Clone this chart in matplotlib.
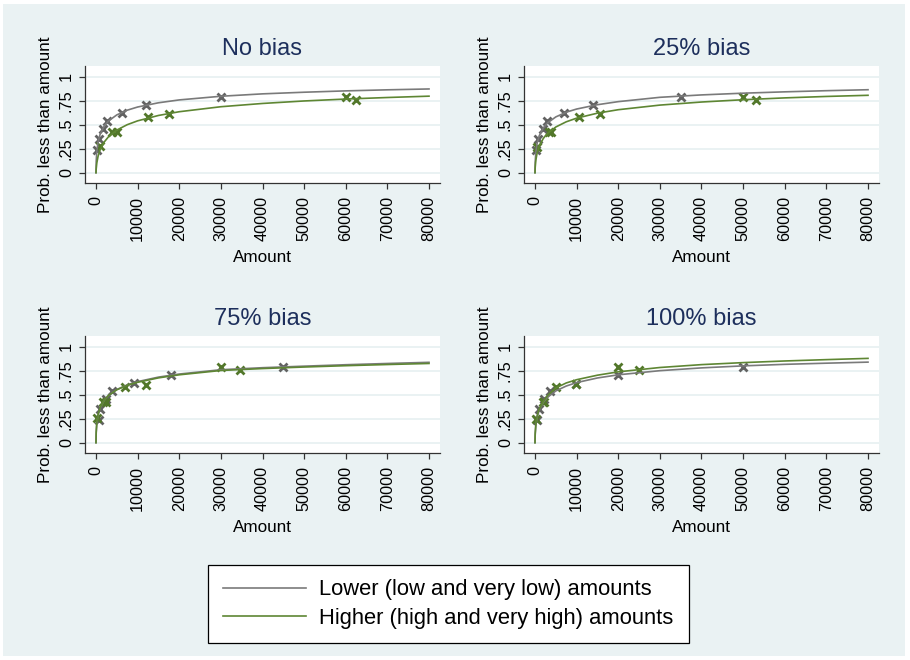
import matplotlib.pyplot as plt
from matplotlib.patches import Rectangle
from matplotlib.lines import Line2D

plt.rcParams['font.family'] = ['Liberation Sans', 'DejaVu Sans']

# --- data ---
panel_titles = ['No bias', '25% bias', '75% bias', '100% bias']

# amounts at which the fitted curves are evaluated
curve_amounts = [0, 50, 200, 500, 1000, 2000, 3000, 5000, 7500, 10000,
                 15000, 20000, 30000, 40000, 50000, 60000, 70000, 80000]

# fitted curves: lower amounts (grey) and higher amounts (green)
low_fit_nobias = [0, 0.116, 0.224, 0.320, 0.402, 0.488, 0.539, 0.602, 0.651, 0.684,
                  0.728, 0.758, 0.796, 0.821, 0.838, 0.852, 0.863, 0.872]
high_fit_nobias = [0, 0.039, 0.102, 0.171, 0.240, 0.321, 0.374, 0.444, 0.500, 0.540,
                   0.596, 0.635, 0.687, 0.721, 0.747, 0.767, 0.783, 0.797]
low_fit_25 = [0, 0.108, 0.211, 0.303, 0.383, 0.467, 0.518, 0.581, 0.630, 0.663,
              0.708, 0.740, 0.785, 0.810, 0.828, 0.842, 0.854, 0.864]
high_fit_25 = [0, 0.055, 0.128, 0.204, 0.275, 0.357, 0.409, 0.476, 0.530, 0.568,
               0.620, 0.656, 0.704, 0.736, 0.760, 0.779, 0.794, 0.806]
low_fit_75 = [0, 0.102, 0.199, 0.286, 0.361, 0.443, 0.492, 0.554, 0.602, 0.636,
              0.683, 0.715, 0.760, 0.781, 0.797, 0.812, 0.825, 0.837]
high_fit_75 = [0, 0.114, 0.211, 0.295, 0.368, 0.446, 0.492, 0.551, 0.598, 0.629,
               0.675, 0.707, 0.752, 0.772, 0.788, 0.802, 0.814, 0.825]
low_fit_100 = [0, 0.083, 0.173, 0.259, 0.337, 0.421, 0.473, 0.539, 0.590, 0.626,
               0.674, 0.707, 0.750, 0.779, 0.800, 0.816, 0.828, 0.839]
high_fit_100 = [0, 0.100, 0.190, 0.280, 0.350, 0.430, 0.490, 0.570, 0.622, 0.656,
                0.703, 0.738, 0.783, 0.813, 0.834, 0.851, 0.865, 0.878]

# observed points
low_x_nobias = [150, 750, 1800, 2600, 6250, 12000, 30000]
low_y_nobias = [0.24, 0.35, 0.455, 0.535, 0.62, 0.705, 0.785]
high_x_nobias = [1000, 3750, 5000, 12500, 17500, 60000, 62500]
high_y_nobias = [0.28, 0.42, 0.42, 0.58, 0.61, 0.785, 0.757]

low_x_25 = [200, 700, 1900, 2800, 7000, 14000, 35000]
low_y_25 = [0.24, 0.35, 0.455, 0.535, 0.62, 0.705, 0.785]
high_x_25 = [450, 3400, 3750, 10600, 15600, 50000, 53000]
high_y_25 = [0.265, 0.42, 0.42, 0.58, 0.608, 0.785, 0.757]

low_x_75 = [700, 1000, 2300, 3750, 9100, 18000, 45000]
low_y_75 = [0.24, 0.35, 0.455, 0.535, 0.618, 0.705, 0.785]
high_x_75 = [150, 1600, 2400, 6900, 11900, 30000, 34500]
high_y_75 = [0.26, 0.42, 0.42, 0.58, 0.60, 0.785, 0.757]

low_x_100 = [450, 950, 2100, 3650, 9850, 20000, 50000]
low_y_100 = [0.24, 0.35, 0.455, 0.535, 0.61, 0.705, 0.785]
high_x_100 = [300, 2000, 2200, 5000, 9850, 20000, 25000]
high_y_100 = [0.25, 0.42, 0.42, 0.58, 0.61, 0.785, 0.757]

x_ticks = [0, 10000, 20000, 30000, 40000, 50000, 60000, 70000, 80000]
y_ticks = [0, 0.25, 0.5, 0.75, 1]
y_tick_labels = ['0', '.25', '.5', '.75', '1']

legend_labels = ['Lower (low and very low) amounts',
                 'Higher (high and very high) amounts']

low_fits = [low_fit_nobias, low_fit_25, low_fit_75, low_fit_100]
high_fits = [high_fit_nobias, high_fit_25, high_fit_75, high_fit_100]
low_pts = [(low_x_nobias, low_y_nobias), (low_x_25, low_y_25),
           (low_x_75, low_y_75), (low_x_100, low_y_100)]
high_pts = [(high_x_nobias, high_y_nobias), (high_x_25, high_y_25),
            (high_x_75, high_y_75), (high_x_100, high_y_100)]

# --- styling ---
W, H = 910, 660
bg = '#EAF2F3'
grey_line = '#7a7a7a'
grey_mark = '#626262'
green_line = '#5e8633'
green_mark = '#52772a'
title_col = '#1d2f5c'

fig = plt.figure(figsize=(W / 100, H / 100), dpi=100, facecolor='white')
fig.patches.append(Rectangle((3 / W, 4 / H), (W - 8) / W, (H - 8) / H,
                             transform=fig.transFigure, facecolor=bg,
                             edgecolor='none', zorder=-10))

# plot-region boxes in pixels: left, top
boxes = [(85, 66), (524, 66), (85, 336), (524, 336)]
pw, ph = 355, 117

for i, (left, top) in enumerate(boxes):
    ax = fig.add_axes([left / W, 1 - (top + ph) / H, pw / W, ph / H])
    ax.set_facecolor('white')
    ax.set_xlim(-2640, 82640)
    ax.set_ylim(-0.107, 1.111)

    for y in y_ticks:
        ax.axhline(y, color=bg, lw=1.4, zorder=1)

    ax.plot(*low_pts[i], linestyle='none', marker='x', ms=5.5, mew=2,
            color=grey_mark, zorder=3)
    ax.plot(*high_pts[i], linestyle='none', marker='x', ms=5.5, mew=2,
            color=green_mark, zorder=3)
    ax.plot(curve_amounts, low_fits[i], color=grey_line, lw=1.2, zorder=4)
    ax.plot(curve_amounts, high_fits[i], color=green_line, lw=1.2, zorder=4)

    for side in ['top', 'right']:
        ax.spines[side].set_visible(False)
    for side in ['left', 'bottom']:
        ax.spines[side].set_color('#333333')
        ax.spines[side].set_linewidth(0.9)

    ax.set_xticks(x_ticks)
    ax.set_xticklabels([str(t) for t in x_ticks], rotation=90)
    ax.set_yticks(y_ticks)
    ax.set_yticklabels(y_tick_labels, rotation=90, va='center')
    ax.tick_params(length=4, width=0.9, color='#333333', labelsize=11.7,
                   labelcolor='black')
    ax.tick_params(axis='x', pad=5.5)
    ax.tick_params(axis='y', pad=4)

    ax.set_xlabel('Amount', fontsize=12.3, labelpad=6.5)
    ax.set_ylabel('Prob. less than amount', fontsize=12.3, labelpad=4)
    ax.set_title(panel_titles[i], fontsize=17, color=title_col, pad=8)

handles = [Line2D([], [], color=grey_line, lw=1.2),
           Line2D([], [], color=green_line, lw=1.2)]
leg = fig.legend(handles, legend_labels, loc='center',
                 bbox_to_anchor=(448.5 / W, 1 - 604 / H), fontsize=15.8,
                 frameon=True, fancybox=False, edgecolor='black',
                 facecolor='white', framealpha=1, handlelength=3.75,
                 handletextpad=0.63, labelspacing=0.32, borderpad=0.68,
                 borderaxespad=0)
leg.get_frame().set_linewidth(0.9)

fig.savefig('out.png', dpi=100, facecolor=fig.get_facecolor())
